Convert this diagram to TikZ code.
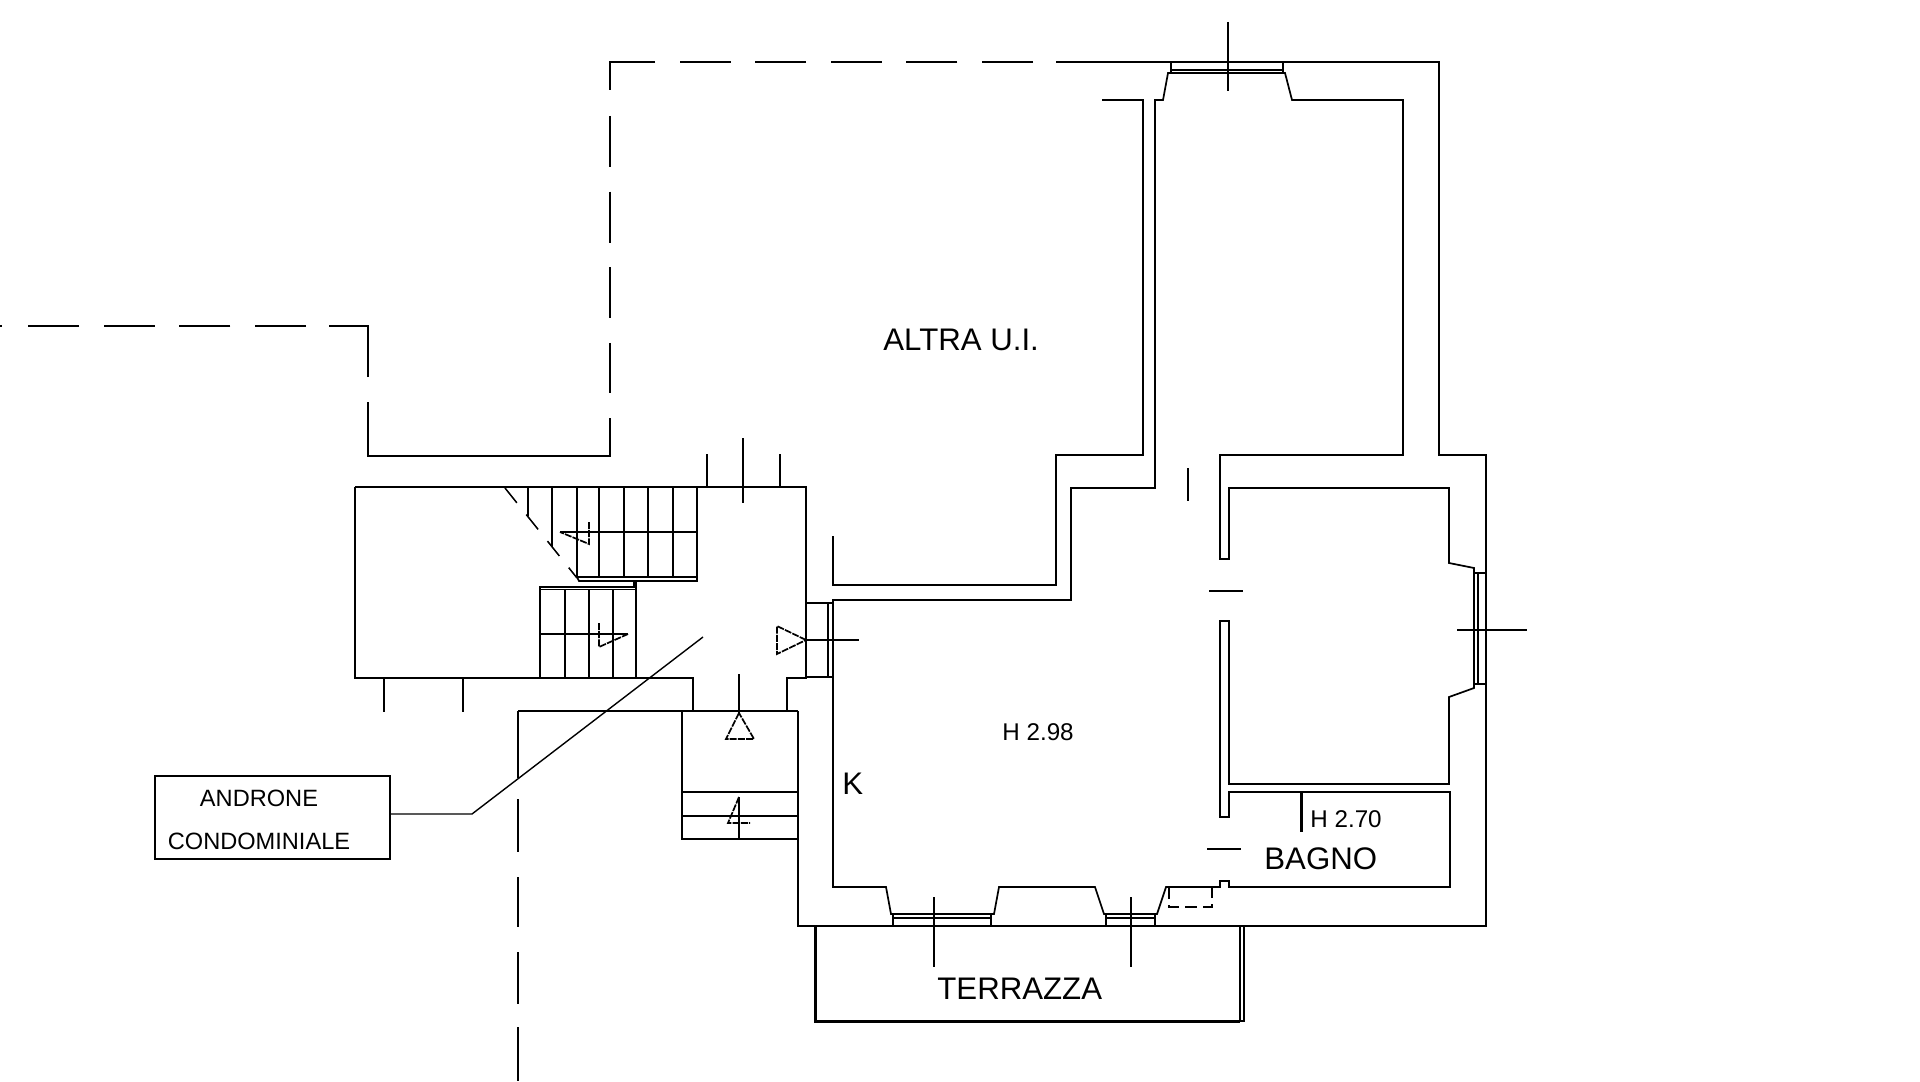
\documentclass[tikz,border=0pt]{standalone}
\usepackage{fontspec}
\setmainfont{Liberation Sans}
\tikzset{
  x=0.5pt,y=-0.5pt,
  wall/.style={line width=0.85pt,line join=miter,line cap=butt,black},
  thin line/.style={line width=0.7pt,black},
  heavy/.style={line width=1.5pt,line join=miter,black},
  longdash/.style={line width=0.85pt,black,dash pattern=on 25.5pt off 12.3pt},
  shortdash/.style={line width=0.75pt,black,dash pattern=on 9.5pt off 7.5pt},
  markdash/.style={line width=0.85pt,black,dash pattern=on 3.5pt off 0.6pt},
  big/.style={inner sep=0pt,anchor=base west,font=\fontsize{15.6pt}{18pt}\selectfont},
  small/.style={inner sep=0pt,anchor=base west,font=\fontsize{12.1pt}{14pt}\selectfont},
  boxlabel/.style={inner sep=0pt,anchor=base,font=\fontsize{11.8pt}{14pt}\selectfont}
}
\begin{document}
\begin{tikzpicture}
\useasboundingbox[fill=white] (0,0) rectangle (1920,1081);

% --- dashed boundary lines
\draw[wall] (1171,62) -- (1056,62);
\draw[longdash] (1033,62) -- (654,62);
\draw[wall] (654,62) -- (610,62) -- (610,90);
\draw[longdash] (610,116) -- (610,393);
\draw[wall] (610,418) -- (610,456) -- (368,456) -- (368,402);
\draw[wall] (368,377) -- (368,326) -- (329,326);
\draw[longdash] (306,326) -- (26,326);
\draw[wall] (0,326) -- (2,326);
\draw[wall] (518,711) -- (518,778);
\draw[wall] (518,799) -- (518,852);
\draw[wall] (518,877) -- (518,927);
\draw[wall] (518,952) -- (518,1004);
\draw[wall] (518,1027) -- (518,1081);

% --- main apartment walls
\draw[wall] (1171,62) -- (1439,62) -- (1439,455) -- (1486,455) -- (1486,926) -- (798,926) -- (798,711);
\draw[wall] (1171,62) -- (1171,73) (1283,62) -- (1283,73);
\draw[wall] (1171,70) -- (1283,70) (1171,73) -- (1283,73);
\draw[wall] (1171,73) -- (1168,73) -- (1163,100) -- (1155,100) -- (1155,488) -- (1071,488) -- (1071,600) -- (833,600)
   -- (833,887) -- (886,887) -- (891,914) -- (893,914);
\draw[wall] (1102,100) -- (1143,100) -- (1143,455) -- (1056,455) -- (1056,585) -- (833,585) -- (833,536);
\draw[wall] (1283,73) -- (1285,73) -- (1292,100) -- (1403,100) -- (1403,455) -- (1220,455) -- (1220,559)
   -- (1229,559) -- (1229,488) -- (1449,488) -- (1449,563) -- (1474,568) -- (1474,688) -- (1449,697)
   -- (1449,784) -- (1229,784) -- (1229,621) -- (1220,621) -- (1220,817) -- (1229,817) -- (1229,792)
   -- (1450,792) -- (1450,887) -- (1229,887) -- (1229,881) -- (1220,881) -- (1220,887) -- (1166,887)
   -- (1157,914) -- (1155,914);
% right window
\draw[wall] (1474,573) -- (1486,573) (1474,684) -- (1486,684) (1478,573) -- (1478,684);
% south windows
\draw[wall] (893,914) -- (991,914) (893,918) -- (991,918) (893,914) -- (893,926) (991,914) -- (991,926);
\draw[wall] (991,914) -- (994,914) -- (999,887) -- (1095,887) -- (1104,914) -- (1106,914);
\draw[wall] (1106,914) -- (1155,914) (1106,918) -- (1155,918) (1106,914) -- (1106,926) (1155,914) -- (1155,926);
% flue
\draw[line width=0.8pt,black,dash pattern=on 6pt off 3pt] (1169,887) -- (1169,907) -- (1212,907) -- (1212,887);
% bathroom partition
\draw[heavy] (1301,792) -- (1301,832);
% door marks
\draw[wall] (1188,468) -- (1188,501);
\draw[wall] (1209,591) -- (1243,591);
\draw[wall] (1207,849) -- (1241,849);

% --- terrace
\draw[heavy] (815,926) -- (815,1021) -- (1240,1021);
\draw[wall] (1240,926) -- (1240,1021) -- (1244,1021) -- (1244,926);

% --- section crosses
\draw[wall] (1228,22) -- (1228,91);
\draw[wall] (1457,630) -- (1527,630);
\draw[wall] (934,897) -- (934,967);
\draw[wall] (1131,897) -- (1131,967);
\draw[wall] (806,640) -- (859,640);

% --- stair hall
\draw[wall] (355,487) -- (806,487) -- (806,678) -- (787,678) -- (787,711);
\draw[wall] (355,487) -- (355,678) -- (693,678) -- (693,711);
\draw[wall] (806,603) -- (832,603) (806,677) -- (832,677) (828,603) -- (828,677);
\draw[wall] (707,454) -- (707,487) (780,454) -- (780,487) (743,438) -- (743,503);
\draw[wall] (384,678) -- (384,712) (463,678) -- (463,712);
% upper flight
\draw[wall] (528,487) -- (528,516) (552,487) -- (552,547);
\foreach \sx in {577,599,624,648,673} \draw[wall] (\sx,487) -- (\sx,577);
\draw[wall] (697,487) -- (697,581) -- (579,581) -- (577,577) -- (697,577);
\draw[wall] (560,532) -- (697,532);
\draw[shortdash] (505,488) -- (577,578);
\draw[markdash] (589,522) -- (589,544) -- (560,532);
% lower flight
\draw[wall] (540,678) -- (540,587) -- (634,587) -- (634,581) (540,589.5) -- (636,589.5) (636,581) -- (636,678);
\foreach \sx in {565,589,613} \draw[wall] (\sx,589) -- (\sx,678);
\draw[wall] (540,634) -- (628,634);
\draw[markdash] (599,623) -- (599,647) -- (628,634);
% entry arrow
\draw[markdash] (806,640) -- (777,626) -- (777,654) -- cycle;

% --- landing below
\draw[wall] (518,711) -- (798,711);
\draw[wall] (682,711) -- (682,839) -- (798,839);
\draw[wall] (682,792) -- (798,792) (682,816) -- (798,816);
\draw[wall] (739,674) -- (739,713);
\draw[markdash] (739,713) -- (726,739) -- (754,739) -- cycle;
\draw[wall] (739,797) -- (739,839);
\draw[markdash] (739,797) -- (728,823) -- (750,823);

% --- labels
\node[big] (altra) at (883,350) {ALTRA U.I.};
\node[small] (h298) at (1002,740) {H 2.98};
\node[small] (h270) at (1310,827) {H 2.70};
\node[big] (bagno) at (1264,869) {BAGNO};
\node[big] (terrazza) at (937,999) {TERRAZZA};
\node[big] (kmark) at (842,794) {K};

% --- callout
\node[draw,line width=0.95pt,inner sep=0pt,minimum width=117.5pt,minimum height=41.5pt,anchor=north west] (callout) at (154,775) {};
\node[boxlabel] (cl1) at (259,806) {ANDRONE};
\node[boxlabel] (cl2) at (259,849) {CONDOMINIALE};
\coordinate (elbow) at (472,814);
\coordinate (leadend) at (703,637);
\draw[thin line] (callout.east |- elbow) -- (elbow) -- (leadend);
\end{tikzpicture}
\end{document}
